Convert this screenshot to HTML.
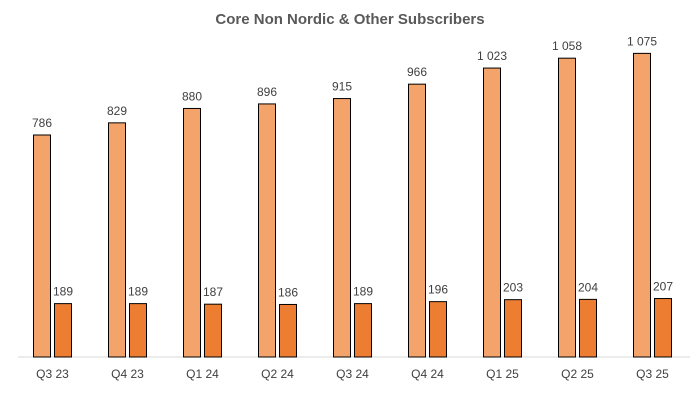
<!DOCTYPE html><html><head><style>body{margin:0;background:#fff}</style></head><body>
<svg width="700" height="400" xmlns="http://www.w3.org/2000/svg" font-family="Liberation Sans, sans-serif">
<rect width="700" height="400" fill="#fff"/>
<text x="350" y="24" text-anchor="middle" font-size="15" font-weight="bold" fill="#595959">Core Non Nordic &amp; Other Subscribers</text>
<line x1="18" y1="357" x2="690" y2="357" stroke="#d9d9d9" stroke-width="1"/>
<g id="bars" font-size="12" fill="#404040" text-anchor="middle"></g>
</svg>
<script>
var a=[786,829,880,896,915,966,1023,1058,1075],b=[189,189,187,186,189,196,203,204,207],l=["Q3 23","Q4 23","Q1 24","Q2 24","Q3 24","Q4 24","Q1 25","Q2 25","Q3 25"];
var g=document.getElementById('bars'),s='',k=222/786;
function f(v){return v>=1000?Math.floor(v/1000)+' '+String(v%1000).padStart(3,'0'):v}
for(var i=0;i<9;i++){var x=33.5+75*i,h=a[i]*k,h2=b[i]*k;
s+='<rect x="'+x+'" y="'+(357-h)+'" width="17" height="'+h+'" fill="#f4a46a" stroke="#000" stroke-width="1"/>';
s+='<rect x="'+(x+21)+'" y="'+(357-h2)+'" width="17" height="'+h2+'" fill="#ed7d31" stroke="#000" stroke-width="1"/>';
s+='<text x="'+(x+8.5)+'" y="'+(357-h-8)+'">'+f(a[i])+'</text>';
s+='<text x="'+(x+29.5)+'" y="'+(357-h2-8)+'">'+b[i]+'</text>';
s+='<text x="'+(x+19)+'" y="378">'+l[i]+'</text>';}
g.innerHTML=s;
</script></body></html>
